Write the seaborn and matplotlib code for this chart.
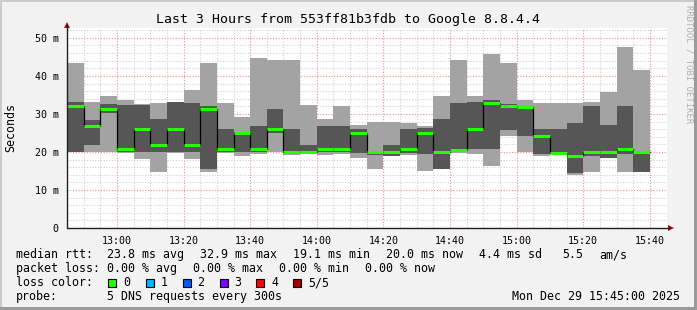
import matplotlib
matplotlib.use("Agg")
import matplotlib.pyplot as plt
import numpy as np
import pandas as pd
import seaborn as sns
from matplotlib.patches import Rectangle, Polygon

# ---------------- data ----------------
bin_start = ["12:45", "12:50", "12:55", "13:00", "13:05", "13:10", "13:15",
             "13:20", "13:25", "13:30", "13:35", "13:40", "13:45", "13:50",
             "13:55", "14:00", "14:05", "14:10", "14:15", "14:20", "14:25",
             "14:30", "14:35", "14:40", "14:45", "14:50", "14:55", "15:00",
             "15:05", "15:10", "15:15", "15:20", "15:25", "15:30", "15:35"]
# outer smoke (ms)
light_lo = [20.0, 20.0, 20.0, 19.7, 18.2, 14.8, 19.8, 18.2, 14.8, 19.7, 19.0,
            19.5, 20.0, 19.1, 19.7, 19.2, 19.4, 18.5, 15.5, 19.0, 19.3, 15.0,
            15.5, 19.8, 19.4, 16.4, 24.2, 20.0, 19.0, 19.4, 14.0, 14.6, 18.5,
            14.8, 20.0]
light_hi = [43.5, 33.1, 34.7, 33.7, 32.7, 32.9, 33.1, 36.3, 43.5, 32.9, 29.3,
            44.8, 44.2, 44.2, 32.4, 28.6, 32.2, 27.1, 27.9, 27.9, 27.6, 26.8,
            34.7, 44.2, 34.7, 45.7, 43.5, 33.7, 32.9, 32.9, 32.9, 33.1, 35.8,
            47.6, 41.6]
# inner smoke (ms)
dark_lo = [20.1, 21.7, 30.3, 20.0, 20.0, 20.0, 20.0, 20.0, 15.6, 20.0, 20.0,
           20.0, 25.1, 19.8, 20.0, 20.0, 20.0, 19.8, 19.1, 19.0, 19.6, 19.4,
           15.5, 20.0, 20.8, 20.8, 25.8, 24.2, 19.4, 19.4, 14.4, 19.0, 18.5,
           19.4, 14.6]
dark_hi = [33.1, 28.4, 32.7, 32.4, 32.4, 28.6, 33.1, 32.9, 32.2, 26.0, 25.2,
           26.9, 31.3, 26.0, 21.8, 26.8, 26.8, 26.0, 20.2, 21.7, 26.0, 26.3,
           28.6, 32.9, 33.1, 33.6, 32.7, 32.0, 26.0, 26.0, 27.7, 32.2, 27.1,
           32.2, 20.1]
median = [32.2, 26.9, 31.3, 20.8, 26.1, 21.9, 26.1, 21.7, 31.3, 20.8, 25.1,
          20.9, 26.1, 20.1, 20.1, 20.9, 20.9, 25.1, 20.1, 20.1, 20.9, 25.1,
          20.1, 20.5, 26.1, 32.9, 32.2, 31.8, 24.2, 19.8, 19.0, 20.1, 20.1,
          20.9, 20.1]

ytick_vals = [0, 10, 20, 30, 40, 50]
ytick_labels = ["0", "10 m", "20 m", "30 m", "40 m", "50 m"]
xtick_labels = ["13:00", "13:20", "13:40", "14:00", "14:20", "14:40",
                "15:00", "15:20", "15:40"]

title = "Last 3 Hours from 553ff81b3fdb to Google 8.8.4.4"
loss_labels = ["0", "1", "2", "3", "4", "5/5"]
loss_colors = ["#26ff00", "#00b8ff", "#0059ff", "#7e00ff", "#ff0000", "#a10000"]

# ---------------- figure ----------------
W, H = 697, 310
sns.set_theme(style="white")
plt.rcParams["font.family"] = ["DejaVu Sans Mono", "DejaVu Sans"]

BG = "#f2f2f2"
fig = plt.figure(figsize=(W / 100, H / 100), dpi=100, facecolor=BG)

X0, X1, Y0, Y1 = 67, 666.5, 228, 28
ax = fig.add_axes([X0 / W, 1 - Y0 / H, (X1 - X0) / W, (Y0 - Y1) / H])
ax.set_facecolor("white")


def to_min(s):
    h, m = s.split(":")
    return (int(h) - 12) * 60 + int(m) - 45


df = pd.DataFrame({
    "t": [to_min(s) for s in bin_start],
    "llo": light_lo, "lhi": light_hi,
    "dlo": dark_lo, "dhi": dark_hi, "med": median,
})

ax.bar(df["t"], df["lhi"] - df["llo"], bottom=df["llo"], width=5,
       align="edge", color="#a3a3a3", linewidth=0, zorder=2)
ax.bar(df["t"], df["dhi"] - df["dlo"], bottom=df["dlo"], width=5,
       align="edge", color="#565656", linewidth=0, zorder=3)

step = pd.DataFrame({"t": list(df["t"]) + [df["t"].iloc[-1] + 5],
                     "med": list(df["med"]) + [df["med"].iloc[-1]]})
sns.lineplot(data=step, x="t", y="med", ax=ax, color="black", lw=0.9,
             drawstyle="steps-post", estimator=None, sort=False, zorder=4)
ax.hlines(df["med"], df["t"], df["t"] + 5, color=loss_colors[0], lw=2.2,
          zorder=5)

ax.set_xlim(0, 180)
ax.set_ylim(0, 52.6)

xt = [to_min(s) for s in xtick_labels]
ax.set_xticks(xt)
ax.set_xticklabels(xtick_labels)
ax.set_xticks(np.arange(5, 180, 5), minor=True)
ax.set_yticks(ytick_vals)
ax.set_yticklabels(ytick_labels)
ax.set_yticks(np.arange(2, 53, 2), minor=True)
ax.set_xlabel("")
ax.set_ylabel("")

ax.grid(which="minor", color="#cfcfcf", lw=0.8, linestyle=(0, (1, 1.5)),
        zorder=0)
ax.grid(which="major", color="#f09090", lw=0.8, linestyle=(0, (1, 1.5)),
        zorder=1)
ax.set_axisbelow(True)
for s in ax.spines.values():
    s.set_visible(False)
ax.tick_params(which="major", length=2, width=0.8, color="#e07070",
               labelsize=7.2, pad=3.5, labelcolor="black")
ax.tick_params(which="minor", length=0)
ax.tick_params(axis="y", which="major", pad=4)

# overlay in pixel coordinates
ov = fig.add_axes([0, 0, 1, 1], facecolor="none")
ov.set_xlim(0, W)
ov.set_ylim(H, 0)
ov.axis("off")

# axis lines and arrows
ov.plot([X0, 669], [Y0, Y0], color="#202020", lw=1)
ov.plot([X0, X0], [Y0, 25], color="#202020", lw=1)
ov.add_patch(Polygon([[668, 225], [668, 231], [674, 228]], closed=True,
                     color="#a01010", lw=0))
ov.add_patch(Polygon([[64, 28], [70, 28], [67, 22]], closed=True,
                     color="#a01010", lw=0))

# border shading
ov.add_patch(Rectangle((0, 0), W, 2, color="#cbcbcb", lw=0))
ov.add_patch(Rectangle((0, 0), 2, H, color="#cbcbcb", lw=0))
ov.add_patch(Rectangle((W - 3, 0), 3, H, color="#9b9b9b", lw=0))
ov.add_patch(Rectangle((0, H - 3), W, 3, color="#9b9b9b", lw=0))

# texts
ov.text(348, 19, title, ha="center", va="center", fontsize=9.5, color="black")
ov.text(11, 128, "Seconds", ha="center", va="center", rotation=90,
        fontsize=8.4, color="black")
ov.text(688.5, 5, "RRDTOOL / TOBI OETIKER", ha="center", va="top",
        rotation=270, fontsize=6.5, color="#b0b0b0")

fs = 8.4
y1, y2, y3, y4 = 254.5, 268.5, 282.5, 296.5
row1 = [(16, "median rtt:"), (107, "23.8 ms avg"), (200, "32.9 ms max"),
        (293, "19.1 ms min"), (386, "20.0 ms now"), (479, "4.4 ms sd"),
        (562.5, "5.5"), (599, "am/s")]
for x, s in row1:
    ov.text(x, y1, s, ha="left", va="center", fontsize=fs, color="black")
row2 = [(16, "packet loss:"), (107, "0.00 % avg"), (193, "0.00 % max"),
        (279, "0.00 % min"), (365, "0.00 % now")]
for x, s in row2:
    ov.text(x, y2, s, ha="left", va="center", fontsize=fs, color="black")
ov.text(16, y3, "loss color:", ha="left", va="center", fontsize=fs,
        color="black")
box_x = [108, 145.5, 182.5, 219.5, 256, 293]
for bx, lab, col in zip(box_x, loss_labels, loss_colors):
    ov.add_patch(Rectangle((bx, y3 - 4), 8, 8, facecolor=col,
                           edgecolor="black", lw=0.8))
    ov.text(bx + 15, y3, lab, ha="left", va="center", fontsize=fs,
            color="black")
ov.text(16, y4, "probe:", ha="left", va="center", fontsize=fs, color="black")
ov.text(107, y4, "5 DNS requests every 300s", ha="left", va="center",
        fontsize=fs, color="black")
ov.text(680, y4, "Mon Dec 29 15:45:00 2025", ha="right", va="center",
        fontsize=fs, color="black")

fig.savefig("out.png", dpi=100, facecolor=BG)
